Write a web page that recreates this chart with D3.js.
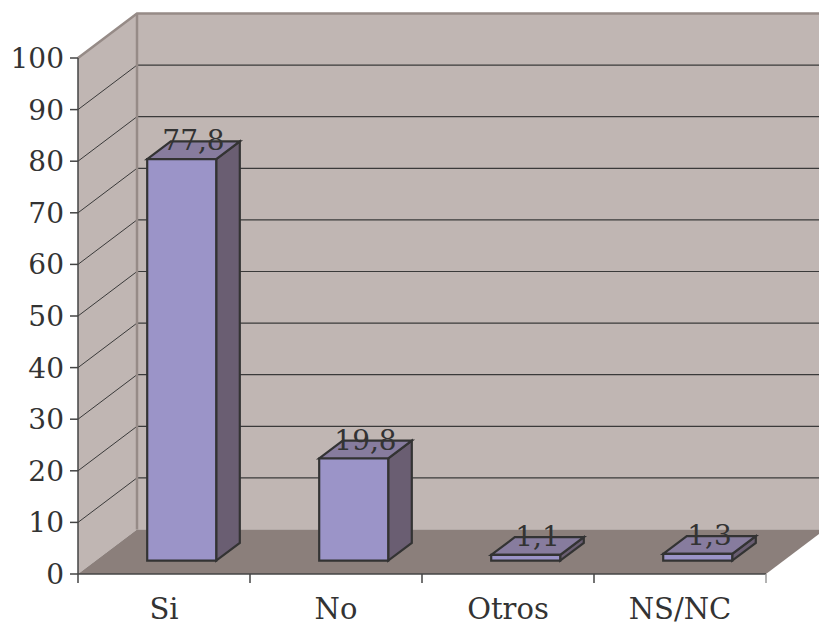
<!DOCTYPE html>
<html>
<head>
<meta charset="utf-8">
<script src="https://cdn.jsdelivr.net/npm/d3@7"></script>
<style>
  html, body { margin: 0; padding: 0; background: #ffffff; }
  svg { display: block; }
  text { font-family: "DejaVu Serif", "Liberation Serif", serif; fill: #333333; }
</style>
</head>
<body>
<svg id="chart" width="819" height="626"></svg>
<script>
// Survey answers (percent)
const categories = ["Si", "No", "Otros", "NS/NC"];
const values = [77.8, 19.8, 1.1, 1.3];
const valueLabels = ["77,8", "19,8", "1,1", "1,3"];
const yTicks = [0, 10, 20, 30, 40, 50, 60, 70, 80, 90, 100];

const W = 819, H = 626;
const svg = d3.select("#chart");

// Front plane of the plot box
const x0 = 78, x1 = 766, yBottom = 574, yTop = 58;
// Depth projection: full depth shifts right and up
const DX = 59, DY = -44.5;

const x = d3.scaleBand().domain(categories).range([x0, x1]).paddingInner(0).paddingOuter(0);
const y = d3.scaleLinear().domain([0, 100]).range([yBottom, yTop]);

// project a point (screen x at front, value, depth 0..1)
const P = (px, v, z) => [px + DX * z, y(v) + DY * z];
const pts = arr => arr.map(p => p.join(",")).join(" ");

const wallFill = "#c0b6b3";
const floorFill = "#8b7f7b";
const edgeGray = "#968b87";
const gridColor = "#3a3a3a";

// Back wall
svg.append("polygon")
  .attr("points", pts([P(x0, 100, 1), P(x1 + 80, 100, 1), P(x1 + 80, 0, 1), P(x0, 0, 1)]))
  .attr("fill", wallFill);

// Left side wall
svg.append("polygon")
  .attr("points", pts([P(x0, 0, 0), P(x0, 100, 0), P(x0, 100, 1), P(x0, 0, 1)]))
  .attr("fill", wallFill);

// Floor
svg.append("polygon")
  .attr("points", pts([P(x0, 0, 0), P(x1, 0, 0), P(x1, 0, 1), P(x0, 0, 1)]))
  .attr("fill", floorFill);

// Gridlines on back wall and left wall
const gridVals = yTicks.filter(v => v > 0 && v < 100);
svg.append("g").selectAll("line.back").data(gridVals).join("line")
  .attr("x1", v => P(x0, v, 1)[0]).attr("y1", v => P(x0, v, 1)[1])
  .attr("x2", W + 10).attr("y2", v => P(x0, v, 1)[1])
  .attr("stroke", gridColor).attr("stroke-width", 1.2);
svg.append("g").selectAll("line.side").data(gridVals).join("line")
  .attr("x1", v => P(x0, v, 0)[0]).attr("y1", v => P(x0, v, 0)[1])
  .attr("x2", v => P(x0, v, 1)[0]).attr("y2", v => P(x0, v, 1)[1])
  .attr("stroke", gridColor).attr("stroke-width", 1);

// Top edges and back corner of the box
svg.append("polyline")
  .attr("points", pts([P(x0, 100, 0), P(x0, 100, 1), [W + 10, P(x0, 100, 1)[1]]]))
  .attr("fill", "none").attr("stroke", edgeGray).attr("stroke-width", 2.5);
svg.append("line")
  .attr("x1", P(x0, 100, 1)[0]).attr("y1", P(x0, 100, 1)[1])
  .attr("x2", P(x0, 0, 1)[0]).attr("y2", P(x0, 0, 1)[1])
  .attr("stroke", edgeGray).attr("stroke-width", 2.5);

// Bars (cuboids), depth from zF to zB
const zF = 0.3, zB = 0.7;
const barW = 69;
const bars = svg.append("g");
categories.forEach((c, i) => {
  const v = values[i];
  const cx = x(c) + x.bandwidth() / 2;
  const l = cx - barW / 2, r = cx + barW / 2;
  const g = bars.append("g").attr("stroke", "#333333").attr("stroke-width", 2.2).attr("stroke-linejoin", "miter");
  // right side
  g.append("polygon")
    .attr("points", pts([P(r, 0, zF), P(r, v, zF), P(r, v, zB), P(r, 0, zB)]))
    .attr("fill", "#6a5e72");
  // top
  g.append("polygon")
    .attr("points", pts([P(l, v, zF), P(r, v, zF), P(r, v, zB), P(l, v, zB)]))
    .attr("fill", "#877c9e");
  // front
  g.append("polygon")
    .attr("points", pts([P(l, 0, zF), P(r, 0, zF), P(r, v, zF), P(l, v, zF)]))
    .attr("fill", "#9b94c8");
  // value label at centre of the top face
  const lp = P(cx, v, (zF + zB) / 2);
  svg.append("text")
    .attr("x", lp[0]).attr("y", lp[1])
    .attr("text-anchor", "middle")
    .attr("font-size", 28)
    .text(valueLabels[i]);
});

// Value axis (front left edge)
svg.append("line")
  .attr("x1", x0).attr("y1", y(0)).attr("x2", x0).attr("y2", y(100))
  .attr("stroke", "#444444").attr("stroke-width", 1.5);
const yAxis = svg.append("g");
yAxis.selectAll("line").data(yTicks).join("line")
  .attr("x1", x0 - 8).attr("x2", x0).attr("y1", d => y(d)).attr("y2", d => y(d))
  .attr("stroke", "#444444").attr("stroke-width", 1.5);
yAxis.selectAll("text").data(yTicks).join("text")
  .attr("x", 64).attr("y", d => y(d)).attr("dy", "0.36em")
  .attr("text-anchor", "end").attr("font-size", 28)
  .text(d => d);

// Category axis (front floor edge)
svg.append("line")
  .attr("x1", x0).attr("y1", yBottom).attr("x2", x1).attr("y2", yBottom)
  .attr("stroke", "#444444").attr("stroke-width", 1.5);
const bounds = categories.map(c => x(c)).concat([x1]);
svg.append("g").selectAll("line").data(bounds).join("line")
  .attr("x1", d => d).attr("x2", d => d)
  .attr("y1", yBottom).attr("y2", yBottom + 9)
  .attr("stroke", (d, i) => i === bounds.length - 1 ? "#9a9a9a" : "#444444")
  .attr("stroke-width", 1.5);
svg.append("g").selectAll("text").data(categories).join("text")
  .attr("x", d => x(d) + x.bandwidth() / 2)
  .attr("y", 619)
  .attr("text-anchor", "middle").attr("font-size", 29)
  .text(d => d);
</script>
</body>
</html>
